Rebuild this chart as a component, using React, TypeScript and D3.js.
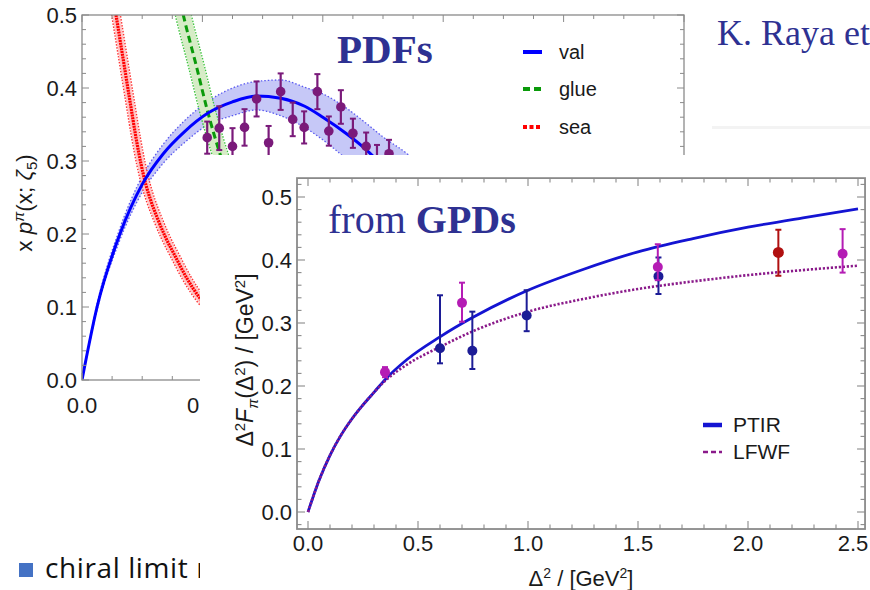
import React from "react";
import * as d3 from "d3";

// ---------- PDF panel (upper-left chart) ----------
const valX = [0, 0.025, 0.063, 0.1, 0.135, 0.17, 0.21, 0.25, 0.29, 0.33, 0.37, 0.4, 0.44, 0.47, 0.5, 0.54, 0.58];
const valY = [0, 0.1, 0.2, 0.268, 0.31, 0.34, 0.366, 0.381, 0.389, 0.386, 0.375, 0.36, 0.337, 0.317, 0.293, 0.258, 0.22];
const valLo = [0, 0.096, 0.192, 0.257, 0.297, 0.325, 0.35, 0.362, 0.37, 0.362, 0.346, 0.329, 0.302, 0.28, 0.255, 0.22, 0.18];
const valHi = [0, 0.104, 0.208, 0.279, 0.323, 0.355, 0.382, 0.4, 0.409, 0.411, 0.401, 0.392, 0.372, 0.353, 0.333, 0.31, 0.28];

const glueX = [0.16, 0.17, 0.19, 0.208, 0.233, 0.25];
const glueY = [0.53, 0.494, 0.43, 0.37, 0.3, 0.26];

const seaX = [0.0498, 0.0565, 0.0681, 0.0797, 0.0897, 0.098, 0.1063, 0.1146, 0.1246, 0.1379, 0.1545, 0.1744, 0.196, 0.216];
const seaY = [0.534, 0.5, 0.441, 0.382, 0.332, 0.296, 0.267, 0.245, 0.223, 0.197, 0.17, 0.139, 0.112, 0.093];

const latX = [0.208, 0.228, 0.25, 0.27, 0.29, 0.31, 0.33, 0.35, 0.369, 0.391, 0.41, 0.43, 0.45, 0.472, 0.49, 0.51];
const latY = [0.332, 0.345, 0.32, 0.346, 0.385, 0.325, 0.395, 0.357, 0.346, 0.395, 0.341, 0.374, 0.338, 0.32, 0.3, 0.31];
const latErr = [0.022, 0.03, 0.025, 0.025, 0.024, 0.023, 0.025, 0.023, 0.022, 0.024, 0.02, 0.023, 0.02, 0.019, 0.022, 0.019];

const pdfLegend = ["val", "glue", "sea"];
const pdfXTicks = ["0.0", "0.2", "0.4", "0.6", "0.8", "1.0"];
const pdfYTicks = ["0.0", "0.1", "0.2", "0.3", "0.4", "0.5"];

// ---------- GPD panel (front chart) ----------
const curveX = [0, 0.05, 0.1, 0.15, 0.2, 0.25, 0.3, 0.35, 0.45, 0.6, 0.75, 1.0, 1.25, 1.5, 1.75, 2.0, 2.25, 2.5];
const ptirY = [0, 0.05, 0.09, 0.122, 0.148, 0.17, 0.19, 0.21, 0.242, 0.278, 0.309, 0.352, 0.385, 0.413, 0.434, 0.452, 0.467, 0.481];
const lfwfY = [0, 0.05, 0.09, 0.122, 0.148, 0.17, 0.19, 0.208, 0.234, 0.262, 0.287, 0.318, 0.338, 0.354, 0.366, 0.376, 0.384, 0.391];

const magX = [0.35, 0.7, 1.59, 2.43];
const magY = [0.222, 0.332, 0.389, 0.41];
const magUp = [0.008, 0.032, 0.036, 0.039];
const magDn = [0.008, 0.03, 0.021, 0.03];

const navyX = [0.6, 0.747, 0.994, 1.593];
const navyY = [0.26, 0.256, 0.312, 0.374];
const navyUp = [0.084, 0.062, 0.04, 0.03];
const navyDn = [0.024, 0.029, 0.025, 0.028];

const redX = [2.138];
const redY = [0.412];
const redUp = [0.036];
const redDn = [0.037];

const gpdLegend = ["PTIR", "LFWF"];
const gpdXTicks = ["0.0", "0.5", "1.0", "1.5", "2.0", "2.5"];
const gpdYTicks = ["0.0", "0.1", "0.2", "0.3", "0.4", "0.5"];

const SANS = "'Liberation Sans', Arial, Helvetica, sans-serif";
const SERIF = "'Liberation Serif', 'Times New Roman', serif";
const TITLE = "#2e3192";

function near(a: number, b: number) {
  return Math.abs(a - b) < 1e-6;
}

export default function App() {
  // PDF scales
  const px = d3.scaleLinear().domain([0, 1]).range([82, 684]);
  const py = d3.scaleLinear().domain([0, 0.5]).range([380, 15]);
  // GPD scales
  const gx = d3.scaleLinear().domain([0, 2.5]).range([308, 858]);
  const gy = d3.scaleLinear().domain([0, 0.5]).range([512, 197]);

  const pLine = (xs: number[], ys: number[]) =>
    d3.line().curve(d3.curveMonotoneX)(xs.map((x, i) => [px(x), py(ys[i])] as [number, number])) || "";
  const gLine = (xs: number[], ys: number[]) =>
    d3.line().curve(d3.curveMonotoneX)(xs.map((x, i) => [gx(x), gy(ys[i])] as [number, number])) || "";

  const valBand =
    d3
      .area<number>()
      .curve(d3.curveMonotoneX)
      .x((_, i) => px(valX[i]))
      .y0((_, i) => py(valLo[i]))
      .y1((_, i) => py(valHi[i]))(valX) || "";

  // PDF frame
  const pL = px(0), pR = px(1), pT = py(0.5), pB = py(0);
  const pdfMinorX = d3.range(0, 21).map((i) => i * 0.05);
  const pdfMinorY = d3.range(0, 26).map((i) => i * 0.02);

  // GPD frame
  const gL = gx(-0.05), gR = gx(2.532), gT = gy(0.53), gB = gy(-0.027);
  const gpdMinorX = d3.range(0, 26).map((i) => i * 0.1);
  const gpdMinorY = d3.range(-1, 27).map((i) => i * 0.02);

  const frameCol = "#8a8a8a";

  const errBars = (xs: number[], ys: number[], up: number[], dn: number[], col: string, r: number) =>
    xs.map((x, i) => (
      <g key={i}>
        <line x1={gx(x)} x2={gx(x)} y1={gy(ys[i] + up[i])} y2={gy(ys[i] - dn[i])} stroke={col} strokeWidth={2} />
        <line x1={gx(x) - 3} x2={gx(x) + 3} y1={gy(ys[i] + up[i])} y2={gy(ys[i] + up[i])} stroke={col} strokeWidth={2} />
        <line x1={gx(x) - 3} x2={gx(x) + 3} y1={gy(ys[i] - dn[i])} y2={gy(ys[i] - dn[i])} stroke={col} strokeWidth={2} />
        <circle cx={gx(x)} cy={gy(ys[i])} r={r} fill={col} />
      </g>
    ));

  return (
    <svg
      width={870}
      height={590}
      viewBox="0 0 870 590"
      style={{ position: "absolute", left: 0, top: 0, background: "#fff" }}
    >
      <defs>
        <clipPath id="pdfClip">
          <rect x={pL} y={pT} width={pR - pL} height={pB - pT} />
        </clipPath>
        <clipPath id="gpdClip">
          <rect x={gL} y={gT} width={gR - gL} height={gB - gT} />
        </clipPath>
      </defs>
      <rect x={0} y={0} width={870} height={590} fill="#fff" />

      {/* ================= PDF chart ================= */}
      <g clipPath="url(#pdfClip)">
        {/* val band */}
        <path d={valBand} fill="#c6c8f7" stroke="none" />
        <path d={pLine(valX, valLo)} fill="none" stroke="#5a5af0" strokeWidth={1.3} strokeDasharray="1.5 2" />
        <path d={pLine(valX, valHi)} fill="none" stroke="#5a5af0" strokeWidth={1.3} strokeDasharray="1.5 2" />
        {/* sea band */}
        <path d={pLine(seaX, seaY)} fill="none" stroke="#ff3030" strokeWidth={10} strokeDasharray="1.5 1.5" />
        <path d={pLine(seaX, seaY)} fill="none" stroke="#ffc4c4" strokeWidth={7.4} />
        <path d={pLine(seaX, seaY)} fill="none" stroke="#ff0000" strokeWidth={3.2} strokeDasharray="2 0.8" />
        {/* glue band */}
        <path d={pLine(glueX, glueY)} fill="none" stroke="#3ec43e" strokeWidth={17} strokeDasharray="1.5 1.5" />
        <path d={pLine(glueX, glueY)} fill="none" stroke="#d6ecc6" strokeWidth={14.4} />
        <path d={pLine(glueX, glueY)} fill="none" stroke="#0a9a0a" strokeWidth={3} strokeDasharray="7 4" />
        {/* val line */}
        <path d={pLine(valX, valY)} fill="none" stroke="#0000ff" strokeWidth={3} />
        {/* lattice points */}
        {latX.map((x, i) => (
          <g key={i}>
            <line x1={px(x)} x2={px(x)} y1={py(latY[i] + latErr[i])} y2={py(latY[i] - latErr[i])} stroke="#7a1a7a" strokeWidth={2.2} />
            <line x1={px(x) - 3} x2={px(x) + 3} y1={py(latY[i] + latErr[i])} y2={py(latY[i] + latErr[i])} stroke="#7a1a7a" strokeWidth={2} />
            <line x1={px(x) - 3} x2={px(x) + 3} y1={py(latY[i] - latErr[i])} y2={py(latY[i] - latErr[i])} stroke="#7a1a7a" strokeWidth={2} />
            <circle cx={px(x)} cy={py(latY[i])} r={4.8} fill="#7a1a7a" />
          </g>
        ))}
      </g>
      {/* PDF frame */}
      <rect x={pL} y={pT} width={pR - pL} height={pB - pT} fill="none" stroke={frameCol} strokeWidth={1.3} />
      {pdfMinorX.map((v, i) => {
        const major = Math.abs(v * 5 - Math.round(v * 5)) < 1e-6;
        const len = major ? 7 : 4;
        return (
          <g key={"px" + i} stroke={frameCol} strokeWidth={1}>
            <line x1={px(v)} x2={px(v)} y1={pB} y2={pB - len} />
            <line x1={px(v)} x2={px(v)} y1={pT} y2={pT + len} />
          </g>
        );
      })}
      {pdfMinorY.map((v, i) => {
        const major = Math.abs(v * 10 - Math.round(v * 10)) < 1e-6;
        const len = major ? 7 : 4;
        return (
          <g key={"py" + i} stroke={frameCol} strokeWidth={1}>
            <line x1={pL} x2={pL + len} y1={py(v)} y2={py(v)} />
            <line x1={pR} x2={pR - len} y1={py(v)} y2={py(v)} />
          </g>
        );
      })}
      {pdfYTicks.map((t, i) => (
        <text key={"pyl" + i} x={pL - 5} y={py(+t) + 8} textAnchor="end" fontFamily={SANS} fontSize={22} fill="#1a1a1a">
          {t}
        </text>
      ))}
      {pdfXTicks.map((t, i) => (
        <text key={"pxl" + i} x={px(+t)} y={413} textAnchor="middle" fontFamily={SANS} fontSize={22} fill="#1a1a1a">
          {t}
        </text>
      ))}
      <text transform="translate(32,203) rotate(-90)" textAnchor="middle" fontFamily={SANS} fontSize={22.5} fill="#1a1a1a">
        x <tspan fontStyle="italic">p</tspan>
        <tspan dy={-8} fontSize={15} fontStyle="italic">π</tspan>
        <tspan dy={8}>(x; </tspan>
        <tspan fontStyle="italic">ζ</tspan>
        <tspan dy={5} fontSize={15}>5</tspan>
        <tspan dy={-5}>)</tspan>
      </text>
      {/* PDF legend */}
      {pdfLegend.map((name, i) => {
        const y = [52, 89, 127][i];
        const col = ["#0000ff", "#0a9a0a", "#ff0000"][i];
        const dash = ["none", "7 4", "4 2.5"][i];
        return (
          <g key={name}>
            <line x1={523} x2={542} y1={y} y2={y} stroke={col} strokeWidth={4} strokeDasharray={dash} />
            <text x={559} y={y + 7} fontFamily={SANS} fontSize={20} fill="#1a1a1a">
              {name}
            </text>
          </g>
        );
      })}
      <text x={337} y={63} fontFamily={SERIF} fontWeight="bold" fontSize={41} fill={TITLE}>
        PDFs
      </text>

      {/* slide title fragment */}
      <text x={717} y={45} fontFamily={SERIF} fontSize={36} fill={TITLE}>
        K. Raya et
      </text>
      <rect x={712} y={126} width={158} height={3} fill="#f3f3f3" />

      {/* bullet text under the front panel */}
      <rect x={19} y={563} width={14} height={14} fill="#4472c4" />
      <text x={45} y={578} fontFamily="'Open Sans', Lato, sans-serif" fontSize={28} letterSpacing={0.6} fill="#111">
        chiral limit results
      </text>

      {/* ================= GPD chart (front panel) ================= */}
      <rect x={200} y={155} width={670} height={435} fill="#fff" />
      <g clipPath="url(#gpdClip)">
        <path d={gLine(curveX, ptirY)} fill="none" stroke="#1414d2" strokeWidth={2.8} />
        <path d={gLine(curveX, lfwfY)} fill="none" stroke="#8a1a8a" strokeWidth={2.6} strokeDasharray="2.2 1.8" />
        {errBars(navyX, navyY, navyUp, navyDn, "#1c1c96", 5)}
        {errBars(magX, magY, magUp, magDn, "#b41cb4", 5)}
        {errBars(redX, redY, redUp, redDn, "#b01010", 5.5)}
      </g>
      <rect x={gL} y={gT} width={gR - gL} height={gB - gT} fill="none" stroke={frameCol} strokeWidth={1.8} />
      {gpdMinorX.map((v, i) => {
        const major = Math.abs(v * 2 - Math.round(v * 2)) < 1e-6;
        const len = major ? 8 : 4.5;
        return (
          <g key={"gx" + i} stroke={frameCol} strokeWidth={1.1}>
            <line x1={gx(v)} x2={gx(v)} y1={gB} y2={gB - len} />
            <line x1={gx(v)} x2={gx(v)} y1={gT} y2={gT + len} />
          </g>
        );
      })}
      {gpdMinorY.map((v, i) => {
        const major = Math.abs(v * 10 - Math.round(v * 10)) < 1e-6 && !near(v, -0.02);
        const len = major ? 8 : 4.5;
        return (
          <g key={"gy" + i} stroke={frameCol} strokeWidth={1.1}>
            <line x1={gL} x2={gL + len} y1={gy(v)} y2={gy(v)} />
            <line x1={gR} x2={gR - len} y1={gy(v)} y2={gy(v)} />
          </g>
        );
      })}
      {gpdYTicks.map((t, i) => (
        <text key={"gyl" + i} x={gL - 5} y={gy(+t) + 8} textAnchor="end" fontFamily={SANS} fontSize={22} fill="#1a1a1a">
          {t}
        </text>
      ))}
      {gpdXTicks.map((t, i) => (
        <text key={"gxl" + i} x={Math.min(gx(+t), 853)} y={551} textAnchor="middle" fontFamily={SANS} fontSize={22} fill="#1a1a1a">
          {t}
        </text>
      ))}
      <text x={(gL + gR) / 2} y={586} textAnchor="middle" fontFamily={SANS} fontSize={22} fill="#1a1a1a">
        Δ<tspan dy={-8} fontSize={14}>2</tspan>
        <tspan dy={8}> / [GeV</tspan>
        <tspan dy={-8} fontSize={14}>2</tspan>
        <tspan dy={8}>]</tspan>
      </text>
      <text transform="translate(253,360) rotate(-90)" textAnchor="middle" fontFamily={SANS} fontSize={23} fill="#1a1a1a">
        Δ<tspan dy={-8} fontSize={15}>2</tspan>
        <tspan dy={8} fontStyle="italic">F</tspan>
        <tspan dy={5} fontSize={15} fontStyle="italic">π</tspan>
        <tspan dy={-5}>(Δ</tspan>
        <tspan dy={-8} fontSize={15}>2</tspan>
        <tspan dy={8}>) / [GeV</tspan>
        <tspan dy={-8} fontSize={15}>2</tspan>
        <tspan dy={8}>]</tspan>
      </text>
      {gpdLegend.map((name, i) => {
        const y = [425, 452][i];
        const col = ["#1414d2", "#8a1a8a"][i];
        const dash = ["none", "5 3"][i];
        return (
          <g key={name}>
            <line x1={703} x2={722} y1={y} y2={y} stroke={col} strokeWidth={i === 0 ? 4.5 : 2.5} strokeDasharray={dash} />
            <text x={733} y={y + 7} fontFamily={SANS} fontSize={21} fill="#1a1a1a">
              {name}
            </text>
          </g>
        );
      })}
      <text x={328} y={233} fontFamily={SERIF} fontSize={40} fill={TITLE}>
        from <tspan fontWeight="bold">GPDs</tspan>
      </text>
    </svg>
  );
}
